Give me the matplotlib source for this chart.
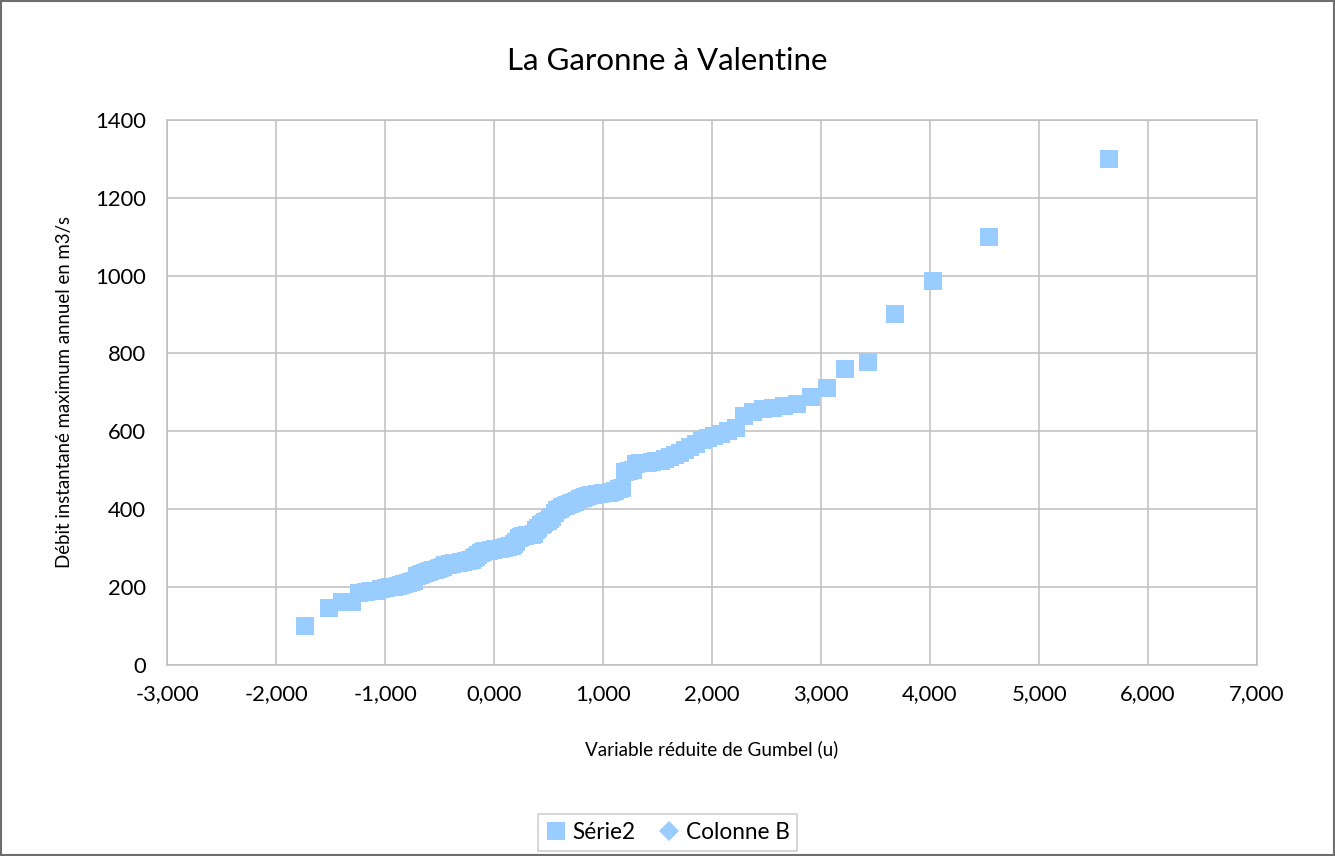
import matplotlib.pyplot as plt
from matplotlib.ticker import FuncFormatter, MultipleLocator
from matplotlib.patches import Rectangle

# Variable réduite de Gumbel (u) pour chaque année classée
u = [-1.730, -1.514, -1.394, -1.307, -1.237, -1.177, -1.124, -1.076, -1.033, -0.992,
     -0.955, -0.919, -0.885, -0.853, -0.822, -0.792, -0.763, -0.736, -0.709, -0.682,
     -0.657, -0.632, -0.607, -0.583, -0.560, -0.537, -0.514, -0.491, -0.469, -0.448,
     -0.426, -0.405, -0.384, -0.363, -0.342, -0.322, -0.301, -0.281, -0.261, -0.241,
     -0.221, -0.201, -0.182, -0.162, -0.143, -0.123, -0.104, -0.084, -0.065, -0.046,
     -0.026, -0.007, 0.012, 0.031, 0.051, 0.070, 0.089, 0.109, 0.128, 0.148,
     0.167, 0.187, 0.206, 0.226, 0.246, 0.266, 0.286, 0.306, 0.326, 0.346,
     0.367, 0.387, 0.408, 0.429, 0.449, 0.471, 0.492, 0.513, 0.535, 0.557,
     0.579, 0.601, 0.624, 0.647, 0.669, 0.693, 0.716, 0.740, 0.764, 0.789,
     0.813, 0.838, 0.864, 0.890, 0.916, 0.942, 0.970, 0.997, 1.025, 1.054,
     1.083, 1.113, 1.143, 1.174, 1.205, 1.238, 1.271, 1.305, 1.339, 1.375,
     1.411, 1.450, 1.488, 1.528, 1.569, 1.612, 1.657, 1.702, 1.750, 1.799,
     1.851, 1.905, 1.962, 2.021, 2.084, 2.150, 2.221, 2.296, 2.377, 2.464,
     2.559, 2.662, 2.778, 2.907, 3.054, 3.224, 3.429, 3.683, 4.024, 4.538,
     5.640]

# Débit instantané maximum annuel (m3/s), classé
q = [100, 145, 160, 161, 185, 186, 188, 190, 194, 196,
     199, 200, 202, 205, 207, 210, 212, 215, 228, 231,
     233, 236, 239, 241, 242, 244, 246, 248, 250, 255,
     257, 258, 259, 260, 261, 262, 263, 264, 265, 267,
     268, 270, 273, 276, 282, 286, 290, 291, 292, 293,
     294, 295, 296, 297, 298, 299, 300, 301, 302, 304,
     306, 309, 316, 325, 328, 330, 331, 332, 333, 334,
     336, 345, 352, 358, 362, 366, 370, 373, 380, 390,
     396, 400, 404, 407, 409, 412, 415, 418, 421, 425,
     428, 430, 433, 435, 437, 438, 439, 440, 441, 442,
     444, 446, 450, 454, 495, 497, 500, 515, 517, 518,
     519, 520, 522, 524, 528, 534, 538, 545, 551, 560,
     566, 577, 582, 588, 593, 600, 608, 640, 648, 657,
     660, 665, 669, 688, 711, 760, 779, 900, 987, 1100,
     1300]

# Colonne B : aucune valeur tracée, seulement la légende
colonne_b_u = []
colonne_b_q = []

plt.rcParams['font.family'] = ['Lato', 'DejaVu Sans']

fig = plt.figure(figsize=(13.35, 8.56), dpi=100)
ax = fig.add_axes([0.1251, 0.2237, 0.8165, 0.6361])

bleu = '#99CCFF'
ax.plot(u, q, linestyle='none', marker='s', markersize=12.3,
        color=bleu, markeredgewidth=0, label='Série2', zorder=3)
ax.plot(colonne_b_u, colonne_b_q, linestyle='none', marker='D', markersize=9.5,
        color=bleu, markeredgewidth=0, label='Colonne B', zorder=3)

ax.set_xlim(-3, 7)
ax.set_ylim(0, 1400)
ax.xaxis.set_major_locator(MultipleLocator(1))
ax.yaxis.set_major_locator(MultipleLocator(200))
ax.xaxis.set_major_formatter(FuncFormatter(lambda v, p: f'{v:.3f}'.replace('.', ',')))

gris = '#BFBFBF'
ax.grid(True, color=gris, linewidth=1.1, zorder=0)
ax.set_axisbelow(True)
for s in ax.spines.values():
    s.set_color(gris)
    s.set_linewidth(1.1)
ax.tick_params(length=0, labelsize=15.8, labelcolor='black')
ax.tick_params(axis='x', pad=14)
ax.tick_params(axis='y', pad=15)

ax.set_xlabel('Variable réduite de Gumbel (u)', fontsize=13.6, labelpad=26)
ax.set_ylabel('Débit instantané maximum annuel en m3/s', fontsize=13.4, labelpad=16)
fig.text(0.5, 0.929, 'La Garonne à Valentine', ha='center', va='center', fontsize=22.5)

leg = ax.legend(loc='center', ncol=2, fontsize=16.3, frameon=True, fancybox=False,
                handlelength=0.9, handletextpad=0.3, columnspacing=1.0,
                borderpad=0.35, markerscale=1.05)
leg.set_bbox_to_anchor((0.5, 0.0275), transform=fig.transFigure)
leg.get_frame().set_edgecolor(gris)
leg.get_frame().set_linewidth(1.1)

fig.patches.append(Rectangle((0.0008, 0.0012), 0.9984, 0.9976, transform=fig.transFigure,
                             fill=False, edgecolor='#6E6E6E', linewidth=1.5))

plt.savefig('out.png', dpi=100)
